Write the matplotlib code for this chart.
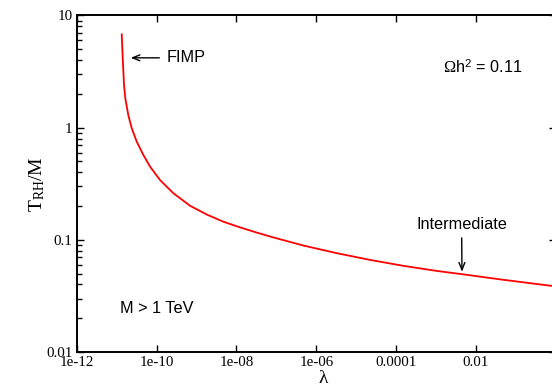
import matplotlib
matplotlib.use("Agg")
import matplotlib.pyplot as plt
from matplotlib.ticker import FixedLocator, LogLocator, FuncFormatter, NullFormatter

# curve: coupling lambda vs T_RH/M for Omega h^2 = 0.11
lam = [1.34e-11, 1.42e-11, 1.53e-11, 1.65e-11, 1.96e-11, 2.39e-11, 3.19e-11,
       4.67e-11, 6.87e-11, 1.22e-10, 2.64e-10, 6.92e-10, 1.81e-09, 4.72e-09,
       1.24e-08, 3.24e-08, 8.45e-08, 4.78e-07, 3.28e-06, 2.24e-05, 1.53e-04,
       1.05e-03, 4.46e-03, 4.92e-02, 0.817, 1.0]
trh = [6.78, 4.14, 2.39, 1.82, 1.29, 0.986, 0.749,
       0.570, 0.449, 0.341, 0.260, 0.201, 0.168, 0.145,
       0.129, 0.116, 0.105, 0.0889, 0.0760, 0.0662, 0.0586,
       0.0528, 0.0494, 0.0440, 0.0388, 0.0382]

xticks = [1e-12, 1e-10, 1e-08, 1e-06, 1e-04, 1e-02, 1.0]
yticks = [0.01, 0.1, 1, 10]

plt.rcParams['mathtext.fontset'] = 'custom'
plt.rcParams['mathtext.rm'] = 'Liberation Serif'
plt.rcParams['mathtext.it'] = 'Liberation Serif:italic'
plt.rcParams['mathtext.sf'] = 'Liberation Sans'

fig = plt.figure(figsize=(5.52, 3.86), dpi=100)
ax = fig.add_axes([0.139, 0.088, 0.868, 0.872])

ax.plot(lam, trh, color='red', lw=1.3)

ax.set_xscale('log')
ax.set_yscale('log')
ax.set_xlim(1e-12, 1.0)
ax.set_ylim(0.01, 10)

ax.xaxis.set_major_locator(FixedLocator(xticks))
ax.xaxis.set_minor_locator(FixedLocator([]))
ax.yaxis.set_major_locator(FixedLocator(yticks))
ax.yaxis.set_minor_locator(LogLocator(base=10, subs=range(2, 10)))
# the "1" label sits past the right edge of the figure in the original
fmt = FuncFormatter(lambda v, p: '' if v >= 1 else '%g' % v)
ax.xaxis.set_major_formatter(fmt)
ax.yaxis.set_major_formatter(FuncFormatter(lambda v, p: '%g' % v))
ax.yaxis.set_minor_formatter(NullFormatter())

ax.tick_params(which='both', direction='in', top=True, right=True, width=1.0,
               labelsize=10.8, pad=3)
ax.tick_params(which='major', length=5)
ax.tick_params(which='minor', length=3.3, right=False)
for lab in ax.get_xticklabels() + ax.get_yticklabels():
    lab.set_family('Liberation Serif')
for s in ax.spines.values():
    s.set_linewidth(1.4)

ax.set_xlabel(r'$\mathrm{\lambda}$', fontsize=14)
ax.set_ylabel(r'$\mathrm{T_{RH}/M}$', fontsize=14)
ax.xaxis.set_label_coords(0.516, -0.048)
ax.yaxis.set_label_coords(-0.062, 0.5)

sans = 'Liberation Sans'
fs = 11.7
ax.annotate('FIMP', xy=(2.25e-11, 4.19), xytext=(1.75e-10, 4.19),
            ha='left', va='center', fontsize=fs, family=sans,
            arrowprops=dict(arrowstyle='->,head_length=0.45,head_width=0.18',
                            color='black', lw=1.0, shrinkA=3, shrinkB=0))
ax.annotate('Intermediate', xy=(4.46e-3, 0.052), xytext=(4.35e-3, 0.136),
            ha='center', va='center', fontsize=fs, family=sans,
            arrowprops=dict(arrowstyle='->,head_length=0.45,head_width=0.18',
                            color='black', lw=1.0, shrinkA=2, shrinkB=0))
ax.text(1.5e-3, 3.5, r'$\Omega$h$^{\mathsf{2}}$ = 0.11', ha='left', va='center',
        fontsize=fs, family=sans)
ax.text(1.22e-11, 0.0243, 'M > 1 TeV', ha='left', va='center',
        fontsize=fs, family=sans)

fig.savefig('out.png', dpi=100)
